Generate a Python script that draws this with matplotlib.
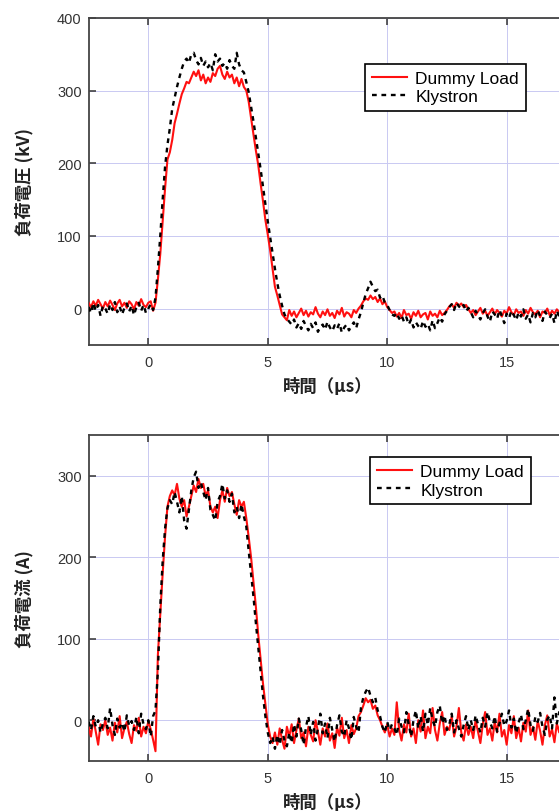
import numpy as np
import matplotlib
matplotlib.use("Agg")
import matplotlib.pyplot as plt

plt.rcParams['font.family'] = ['Noto Sans CJK JP', 'DejaVu Sans']

# sampling of the scope traces (us)
T0 = -2.5
DT = 0.1

# load voltage (kV)
v_dummy = [
    8, 2, 10, 4, 12, 6, 0, 9, 3, 11, 5, -2, 7, 12, 3, 8, 1, 10, 6, -1, 9, 4, 13, 5, 2, 8, 10, -3,
    8, 40, 75, 120, 165, 205, 215, 232, 255, 268, 282, 295, 303, 312, 310, 318, 326, 320, 328, 314,
    322, 310, 318, 312, 324, 320, 330, 334, 322, 316, 326, 318, 322, 310, 318, 306, 316, 305, 300,
    285, 262, 240, 218, 198, 172, 148, 122, 102, 80, 55, 30, 18, 5, -8, -12, -16,
    -2, -10, -4, -12, -6, 0, -9, -3, -11, -5, -8, 2, -7, -12, -4, -9, -1, -10, -6, -13, -3, -8, 1,
    -11, -5, -7, -12, -2, -6, 0,
    4, 10, 14, 12, 18, 13, 16, 9, 14, 6, 10, 2, -2, -6,
    -4, -11, -6, -13, -2, -9, -7, -14, -5, -10, -3, -12, -8, -6, -15, -4, -10, -7, -12, -3, -9, -6, -2,
    3, 6, 1, 8, 4, 7, 2, 5, -1,
    -6, -2, -9, -4, 1, -7, -3, -10, -5, 0, -8, -2, -6, -11, -3, -7, 2, -5, -9, -1, -6, -4, -10, -2,
    -7, 1, -5, -8, -3, -12, -4, -6, 0, -9, -3, -7, -1, -5, -10, -2, -6,
]
v_klystron = [
    2, -6, 8, -3, 5, -10, 4, 0, -7, 6, -2, 9, -5, 3, -8, 1, 7, -4, 4, -9, 2, 8, -3, 5, -6, 0, 6, -2,
    15, 55, 100, 150, 195, 225, 248, 275, 290, 305, 318, 330, 340, 344, 338, 350, 352, 342, 336, 345,
    334, 340, 332, 338, 328, 350, 340, 344, 334, 338, 330, 342, 334, 330, 352, 336, 328, 325, 312,
    298, 278, 258, 236, 215, 192, 168, 145, 120, 98, 76, 55, 35, 18, 4, -8, -14,
    -18, -22, -15, -26, -20, -28, -17, -24, -30, -21, -27, -19, -32, -25, -22, -29, -18, -26, -31,
    -23, -28, -20, -33, -26, -22, -30, -24, -19, -27, -15,
    -5, 8, 20, 28, 37, 30, 24, 26, 15, 18, 8, 5, -2, -8,
    -10, -6, -14, -9, -18, -12, -22, -15, -26, -19, -24, -28, -17, -25, -21, -30, -16, -27, -20,
    -12, -18, -8, -3,
    2, 6, -2, 8, 3, 0, 5, -4, 1,
    -5, -12, -3, -9, -15, -6, -1, -11, -18, -4, -8, -14, -2, -10, -20, -7, -13, -3, -9, -16, -5,
    -11, -1, -14, -8, -19, -6, -12, -2, -10, -17, -4, -9, -13, -7, -20, -3, -11, -6, -15, -8,
]

# load current (A)
i_dummy = [
    -8, -20, 2, -14, -30, -5, -12, 0, -18, -9, -25, -3, -15, 5, -22, -10, -2, -17, -28, -6, -13, 3,
    -20, -8, -16, -1, -11, -24,
    -38, 80, 130, 180, 225, 262, 275, 282, 276, 290, 272, 262, 270, 250, 262, 275, 288, 280, 296,
    285, 290, 275, 282, 262, 255, 262, 248, 270, 282, 268, 285, 275, 280, 265, 252, 270, 262, 268,
    248, 225, 200, 170, 140, 105, 75, 45, 20, -5, -20, -28, -15, -30, -10, -24, -35, -8,
    -20, -5, -28, -12, 2, -22, -15, -32, -8, -18, -26, 0, -14, -30, -10, -20, -4, -25, -16, -34, -9,
    -19, 3, -22, -12, -28, -6, -17, -10, 5,
    10, 18, 27, 22, 25, 14, 18, 6, 0, -8, -15, -5, -20, -10,
    -18, 22, -12, -25, -5, -15, 8, -20, -10, -28, 0, -14, 12, -22, -8, -16, 15, -12, -25, -4, 10,
    -18, -8,
    -12, 5, -20, -8, 15, -15, -25, -5, -18,
    -8, -22, 0, -14, -28, -5, 10, -18, -10, -25, -2, -15, 8, -20, -12, -30, -6, -16, 5, -22, -9,
    -26, -3, -14, 12, -18, -8, -24, -1, -13, -30, -6, 6, -20, -11, -27, -4, -15, 10, -19, -8,
]
i_klystron = [
    -2, -12, 5, -8, 0, -15, -4, 3, -10, 15, -6, -18, 2, -9, -3, -14, 6, -7, -1, -12, 4, -16, 8, -5,
    -11, 0, -20, 5,
    12, 60, 140, 195, 235, 260, 270, 265, 280, 268, 255, 275, 245, 235, 258, 282, 298, 305, 285,
    292, 280, 270, 285, 258, 252, 245, 268, 275, 290, 272, 282, 268, 278, 255, 262, 248, 265, 250,
    238, 208, 180, 152, 120, 90, 60, 30, 5, -15, -28, -20, -35, -18, -30, -12, -25, -32,
    -15, -28, -5, -20, 2, -12, -30, -8, 5, -18, -2, -25, -10, 8, -16, -4, -22, 3, -12, -26, -6, 6,
    -14, -20, 0, -10, -24, 4, -8, -15,
    15, 28, 35, 40, 30, 22, 28, 12, 5, -8, -15, -2, -12, -5,
    -10, -18, 2, -8, -15, 10, -5, -20, 0, 12, -10, 5, -14, 8, -6, 15, 0, -8, 10, 18, -4, 6, -12,
    -5, 8, -15, 0, -10, -20, -6, 5, -12,
    0, -12, 6, -5, -15, 3, -8, 10, -2, -10, 5, -14, -4, 8, -7, -1, 12, -9, 2, -16, -3, 7, -11, 0,
    14, -6, -13, 4, -2, 9, -8, -18, 1, 6, -10, 28, -4, 10, -7, 3, -12,
]

x_ticks = [0, 5, 10, 15]


def trace_time(values):
    return T0 + DT * np.arange(len(values))


def draw_panel(ax, dummy, klystron, ylim, yticks, ylabel, legend_pos):
    ax.plot(trace_time(dummy), dummy, color='#ff1010', lw=1.5, label='Dummy Load', zorder=3)
    ax.plot(trace_time(klystron), klystron, color='black', lw=1.7, ls=(0, (2.0, 2.0)),
            label='Klystron', zorder=4)
    ax.set_xlim(-2.5, 17.5)
    ax.set_ylim(*ylim)
    ax.set_xticks(x_ticks)
    ax.set_yticks(yticks)
    ax.grid(True, color='#c9c9f2', lw=0.7)
    ax.tick_params(direction='in', length=5, width=1.1, colors='#333333',
                   top=True, right=True, labelsize=10.5, pad=5)
    ax.tick_params(axis='x', pad=7)
    for lbl in ax.get_xticklabels() + ax.get_yticklabels():
        lbl.set_family('Liberation Sans')
    for sp in ax.spines.values():
        sp.set_color('#444444')
        sp.set_linewidth(1.3)
    ax.set_xlabel('時間（μs）', fontsize=12.5, fontweight='bold', color='#222222', labelpad=6)
    ax.set_ylabel(ylabel, fontsize=12.5, fontweight='bold', color='#222222', labelpad=17)
    leg = ax.legend(loc='upper left', bbox_to_anchor=legend_pos, borderaxespad=0,
                    prop={'family': 'Liberation Sans', 'size': 12.5},
                    handlelength=2.0, handletextpad=0.5, borderpad=0.4,
                    labelspacing=0.2, fancybox=False, framealpha=1)
    leg.get_frame().set_edgecolor('black')
    leg.get_frame().set_linewidth(1.2)


fig = plt.figure(figsize=(5.59, 8.12), dpi=100)
ax1 = fig.add_axes([0.1585, 0.574, 0.8547, 0.4027])
ax2 = fig.add_axes([0.1585, 0.0616, 0.8547, 0.4015])

draw_panel(ax1, v_dummy, v_klystron, (-50, 400), [0, 100, 200, 300, 400],
           '負荷電圧 (kV)', (0.5785, 0.86))
draw_panel(ax2, i_dummy, i_klystron, (-50, 350), [0, 100, 200, 300],
           '負荷電流 (A)', (0.589, 0.933))

fig.savefig('out.png', dpi=100)
